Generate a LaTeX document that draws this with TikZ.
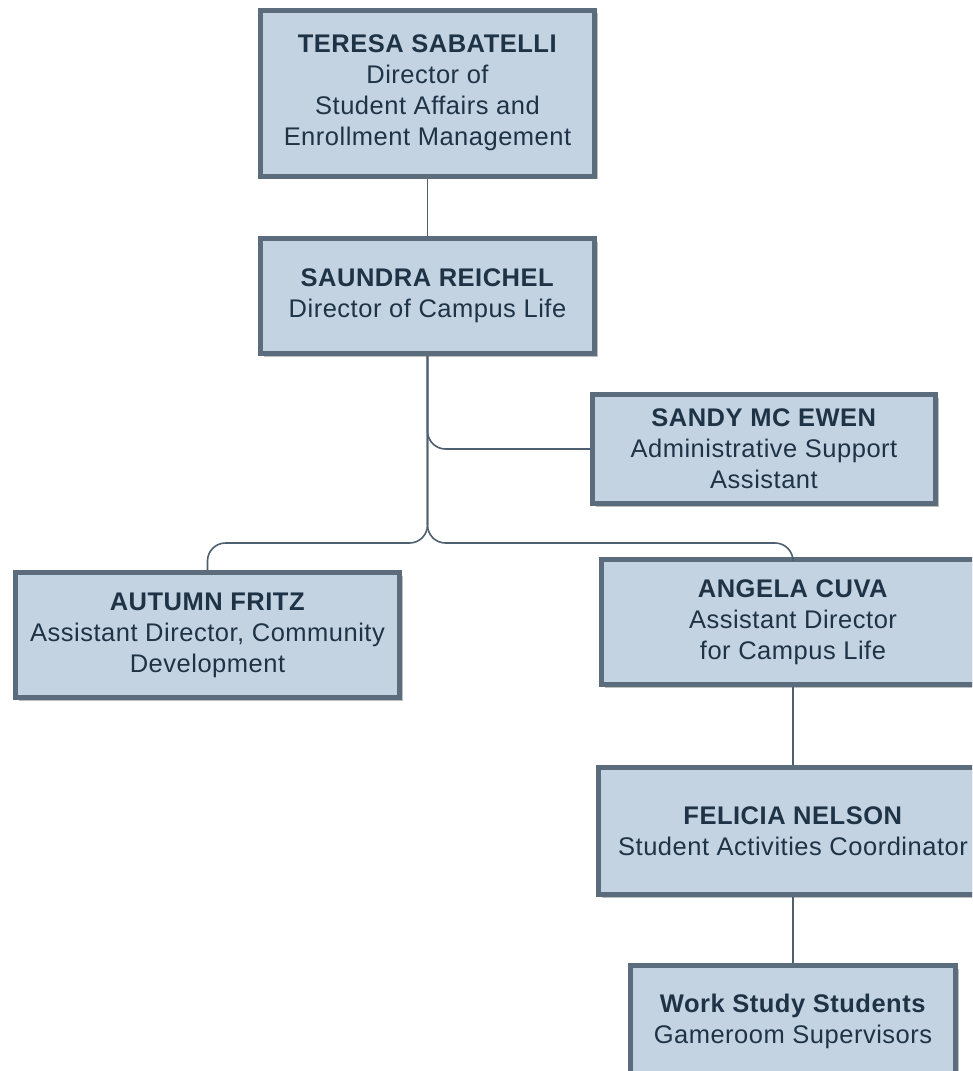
\documentclass[tikz,border=0pt]{standalone}
\usepackage{fontspec}
\setmainfont{Liberation Sans}[LetterSpace=2]
\usetikzlibrary{shadows}
\definecolor{boxfill}{HTML}{C3D3E2}
\definecolor{boxline}{HTML}{5B6C7D}
\definecolor{boxtext}{HTML}{1F3347}
\definecolor{linkline}{HTML}{4E5F70}
\begin{document}
\begin{tikzpicture}[
  x=1pt, y=-1pt,
  person/.style={draw=boxline, line width=5pt, fill=boxfill, text=boxtext, align=center,
    inner sep=0pt, font=\fontsize{25.5}{31}\selectfont,
    drop shadow={shadow xshift=3pt, shadow yshift=-3pt, fill=black, opacity=0.25}},
  link/.style={draw=linkline, line width=1.6pt, rounded corners=18pt},
]
  \useasboundingbox (0,0) rectangle (972,1071);
  \clip (0,0) rectangle (972,1071);
  \fill[white] (0,0) rectangle (972,1071);

  \node[person, minimum width=334, minimum height=166] (teresa)  at (427.5, 93)  {\textbf{TERESA SABATELLI}\\Director of\\Student Affairs and\\Enrollment Management};
  \node[person, minimum width=334, minimum height=115] (saundra) at (427.5, 296) {\textbf{SAUNDRA REICHEL}\\Director of Campus Life};
  \node[person, minimum width=343, minimum height=109] (sandy)   at (764, 449)   {\textbf{SANDY MC EWEN}\\Administrative Support\\Assistant};
  \node[person, minimum width=384, minimum height=125] (autumn)  at (207.5, 635) {\textbf{AUTUMN FRITZ}\\Assistant Director, Community\\Development};
  \node[person, minimum width=383, minimum height=125] (angela)  at (793, 622)   {\textbf{ANGELA CUVA}\\Assistant Director\\for Campus Life};
  \node[person, minimum width=389, minimum height=127] (felicia) at (793, 831)   {\textbf{FELICIA NELSON}\\Student Activities Coordinator};
  \node[person, minimum width=325, minimum height=111] (work)    at (793, 1021)  {\textbf{Work Study Students}\\Gameroom Supervisors};

  \coordinate (fork) at (saundra.south |- 0,543);

  \draw[link] (teresa.south) -- (saundra.north);
  \draw[link] (saundra.south) |- (sandy.west);
  \draw[link] (saundra.south) -- (fork) -| (autumn.north);
  \draw[link] (saundra.south) -- (fork) -| (angela.north);
  \draw[link] (angela.south) -- (felicia.north);
  \draw[link] (felicia.south) -- (work.north);
\end{tikzpicture}
\end{document}
